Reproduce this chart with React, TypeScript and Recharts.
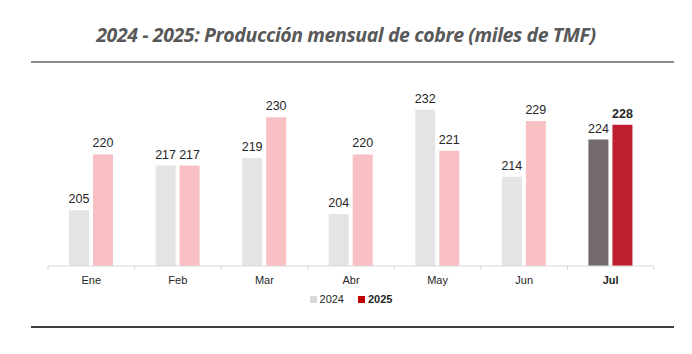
import React from "react";
import { BarChart, Bar, XAxis, YAxis, Cell, LabelList } from "recharts";

const months = ["Ene", "Feb", "Mar", "Abr", "May", "Jun", "Jul"];
const prod2024 = [205, 217, 219, 204, 232, 214, 224];
const prod2025 = [220, 217, 230, 220, 221, 229, 228];

const data = months.map((m, i) => ({ month: m, y2024: prod2024[i], y2025: prod2025[i] }));

const BAND = 606 / 7;

const MonthTick = ({ x, y, payload, index }: any) => {
  const last = index === months.length - 1;
  return (
    <g>
      <line x1={x - BAND / 2} x2={x - BAND / 2} y1={y - 8} y2={y - 4} stroke="#D9D9D9" />
      {last && <line x1={x + BAND / 2} x2={x + BAND / 2} y1={y - 8} y2={y - 4} stroke="#D9D9D9" />}
      <text
        x={x}
        y={y + 10}
        textAnchor="middle"
        fontSize={11}
        fontWeight={last ? 700 : 400}
        fill="#262626"
        fontFamily="Liberation Sans, Arial, sans-serif"
      >
        {payload.value}
      </text>
    </g>
  );
};

const makeLabel = (boldLast: boolean) => (props: any) => {
  const { x, y, width, value, index } = props;
  const bold = boldLast && index === months.length - 1;
  return (
    <text
      x={x + width / 2}
      y={y - 7}
      textAnchor="middle"
      fontSize={12.5}
      fontWeight={bold ? 700 : 400}
      fill="#262626"
      fontFamily="Liberation Sans, Arial, sans-serif"
    >
      {value}
    </text>
  );
};

export default function App() {
  return (
    <div style={{ position: "absolute", left: 0, top: 0, width: 692, height: 354, background: "#fff" }}>
      <div
        style={{
          position: "absolute",
          left: 0,
          top: 21,
          width: 692,
          textAlign: "center",
          fontFamily: "Open Sans, sans-serif",
          fontStyle: "italic",
          fontWeight: 700,
          fontSize: 19.5,
          letterSpacing: -0.4,
          color: "#595959",
        }}
      >
        2024 - 2025: Producción mensual de cobre (miles de TMF)
      </div>
      <div style={{ position: "absolute", left: 31, top: 61, width: 643, height: 2, background: "#8C8C8C" }} />
      <div style={{ position: "absolute", left: 31, top: 326, width: 643, height: 2, background: "#404040" }} />

      <BarChart
        width={692}
        height={354}
        data={data}
        margin={{ top: 80, right: 38, left: 48, bottom: 58 }}
        barSize={20}
        barGap={4}
      >
        <YAxis hide domain={[190, 240]} />
        <XAxis
          dataKey="month"
          axisLine={{ stroke: "#D9D9D9" }}
          tickLine={false}
          height={30}
          interval={0}
          tick={<MonthTick />}
        />
        <Bar dataKey="y2024" isAnimationActive={false}>
          {data.map((d, i) => (
            <Cell key={d.month} fill={i === months.length - 1 ? "#736B6B" : "#E4E4E6"} />
          ))}
          <LabelList dataKey="y2024" content={makeLabel(false)} />
        </Bar>
        <Bar dataKey="y2025" isAnimationActive={false}>
          {data.map((d, i) => (
            <Cell key={d.month} fill={i === months.length - 1 ? "#BE1E2D" : "#F9C0C4"} />
          ))}
          <LabelList dataKey="y2025" content={makeLabel(true)} />
        </Bar>
      </BarChart>

      <div
        style={{
          position: "absolute",
          left: 0,
          top: 293,
          width: 692,
          display: "flex",
          justifyContent: "center",
          gap: 14,
          fontFamily: "Liberation Sans, Arial, sans-serif",
          fontSize: 11,
          color: "#262626",
          paddingLeft: 10,
          boxSizing: "border-box",
        }}
      >
        <span style={{ display: "flex", alignItems: "center", gap: 3 }}>
          <span style={{ width: 7, height: 7, background: "#D9D9D9", display: "inline-block" }} />
          2024
        </span>
        <span style={{ display: "flex", alignItems: "center", gap: 3, fontWeight: 700 }}>
          <span style={{ width: 7, height: 7, background: "#C00000", display: "inline-block" }} />
          2025
        </span>
      </div>
    </div>
  );
}
